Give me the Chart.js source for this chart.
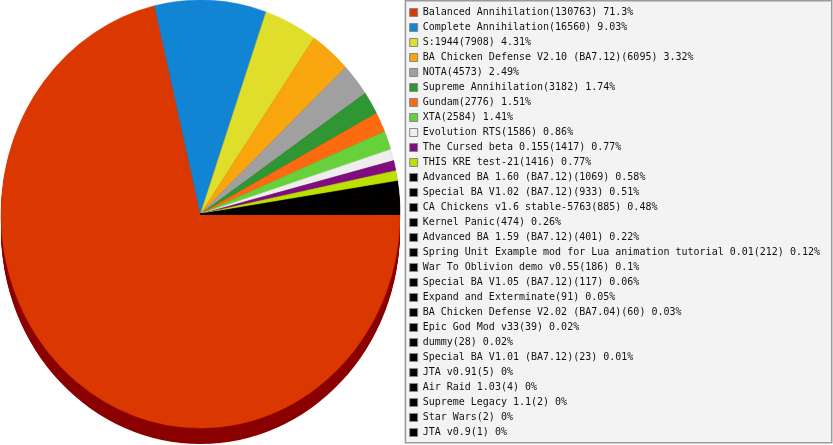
<!DOCTYPE html>
<html>
<head>
<meta charset="utf-8">
<script src="https://cdn.jsdelivr.net/npm/chart.js@4/dist/chart.umd.min.js"></script>
<style>
  html, body { margin: 0; padding: 0; background: #fff; }
  #wrap { width: 833px; height: 445px; position: relative; }
</style>
</head>
<body>
<div id="wrap"><canvas id="modsChart"></canvas></div>
<script>
// Data
const MOD_NAMES = [
    'Balanced Annihilation', 'Complete Annihilation', 'S:1944',
    'BA Chicken Defense V2.10 (BA7.12)', 'NOTA', 'Supreme Annihilation',
    'Gundam', 'XTA', 'Evolution RTS', 'The Cursed beta 0.155',
    'THIS KRE test-21', 'Advanced BA 1.60 (BA7.12)', 'Special BA V1.02 (BA7.12)',
    'CA Chickens v1.6 stable-5763', 'Kernel Panic', 'Advanced BA 1.59 (BA7.12)',
    'Spring Unit Example mod for Lua animation tutorial 0.01',
    'War To Oblivion demo v0.55', 'Special BA V1.05 (BA7.12)',
    'Expand and Exterminate', 'BA Chicken Defense V2.02 (BA7.04)',
    'Epic God Mod v33', 'dummy', 'Special BA V1.01 (BA7.12)', 'JTA v0.91',
    'Air Raid 1.03', 'Supreme Legacy 1.1', 'Star Wars', 'JTA v0.9'
];
const GAME_COUNTS = [
    130763, 16560, 7908, 6095, 4573, 3182, 2776, 2584, 1586, 1417,
    1416, 1069, 933, 885, 474, 401, 212, 186, 117, 91,
    60, 39, 28, 23, 5, 4, 2, 2, 1
];
const PERCENT_LABELS = [
    '71.3', '9.03', '4.31', '3.32', '2.49', '1.74', '1.51', '1.41', '0.86', '0.77',
    '0.77', '0.58', '0.51', '0.48', '0.26', '0.22', '0.12', '0.1', '0.06', '0.05',
    '0.03', '0.02', '0.02', '0.01', '0', '0', '0', '0', '0'
];
const SLICE_COLORS = [
    '#DB3700', '#1284D4', '#DEDE2B', '#F9A50E', '#A0A0A0', '#2E9633',
    '#FC6A12', '#66D13A', '#EEEEEE', '#800D80', '#B9E102',
    '#000000', '#000000', '#000000', '#000000', '#000000', '#000000',
    '#000000', '#000000', '#000000', '#000000', '#000000', '#000000',
    '#000000', '#000000', '#000000', '#000000', '#000000', '#000000'
];

// Tilted pie look
const PIE_CX = 200.5;
const PIE_CY = 214;
const PIE_RX = 199.5;
const PIE_RY = 214;
const PIE_DEPTH = 16;
const SIDE_COLOR = '#8B0000';

function pieTransform(ctx, arc, shift) {
    const r = arc.outerRadius;
    ctx.translate(PIE_CX, PIE_CY + shift);
    ctx.scale(PIE_RX / r, PIE_RY / r);
    ctx.translate(-arc.x, -arc.y);
}

/**
 * Squash the pie into an ellipse and give it a darker side wall
 */
const tiltedPie = {
    id: 'tiltedPie',
    beforeDatasetsDraw(chart) {
        const ctx = chart.ctx;
        const arcs = chart.getDatasetMeta(0).data;
        const first = arcs[0];
        for (let d = PIE_DEPTH; d >= 1; d--) {
            ctx.save();
            pieTransform(ctx, first, d);
            arcs.forEach(a => {
                ctx.beginPath();
                ctx.moveTo(a.x, a.y);
                ctx.arc(a.x, a.y, a.outerRadius, a.startAngle, a.endAngle);
                ctx.closePath();
                ctx.fillStyle = SIDE_COLOR;
                ctx.fill();
            });
            ctx.restore();
        }
        ctx.save();
        pieTransform(ctx, first, 0);
    },
    afterDatasetsDraw(chart) {
        chart.ctx.restore();
    }
};

/**
 * Grey box behind the legend
 */
const legendBox = {
    id: 'legendBox',
    beforeDraw(chart) {
        const lg = chart.legend;
        if (!lg) return;
        const ctx = chart.ctx;
        ctx.save();
        ctx.fillStyle = '#F3F3F3';
        ctx.fillRect(lg.left, 0, chart.width - lg.left - 1, 443);
        ctx.strokeStyle = '#9A9A9A';
        ctx.lineWidth = 1.5;
        ctx.strokeRect(lg.left + 0.75, 0.75, chart.width - lg.left - 2, 442);
        ctx.restore();
    }
};

const ctx = document.getElementById('modsChart').getContext('2d');
new Chart(ctx, {
    type: 'pie',
    data: {
        labels: MOD_NAMES,
        datasets: [{
            data: GAME_COUNTS,
            backgroundColor: SLICE_COLORS,
            borderColor: SLICE_COLORS,
            borderWidth: 0.5,
            clip: false
        }]
    },
    options: {
        responsive: true,
        maintainAspectRatio: false,
        animation: false,
        rotation: 90,
        layout: { padding: { right: 3 } },
        events: [],
        plugins: {
            tooltip: { enabled: false },
            legend: {
                position: 'right',
                maxWidth: 500,
                labels: {
                    boxWidth: 8,
                    boxHeight: 8,
                    padding: 5,
                    color: '#111',
                    font: { family: '"DejaVu Sans Mono", monospace', size: 10 },
                    generateLabels: () => MOD_NAMES.map((name, i) => ({
                        text: `${name}(${GAME_COUNTS[i]}) ${PERCENT_LABELS[i]}%`,
                        fillStyle: SLICE_COLORS[i],
                        strokeStyle: '#888',
                        lineWidth: 1,
                        fontColor: '#111',
                        hidden: false,
                        index: i
                    }))
                }
            }
        }
    },
    plugins: [tiltedPie, legendBox]
});
</script>
</body>
</html>
